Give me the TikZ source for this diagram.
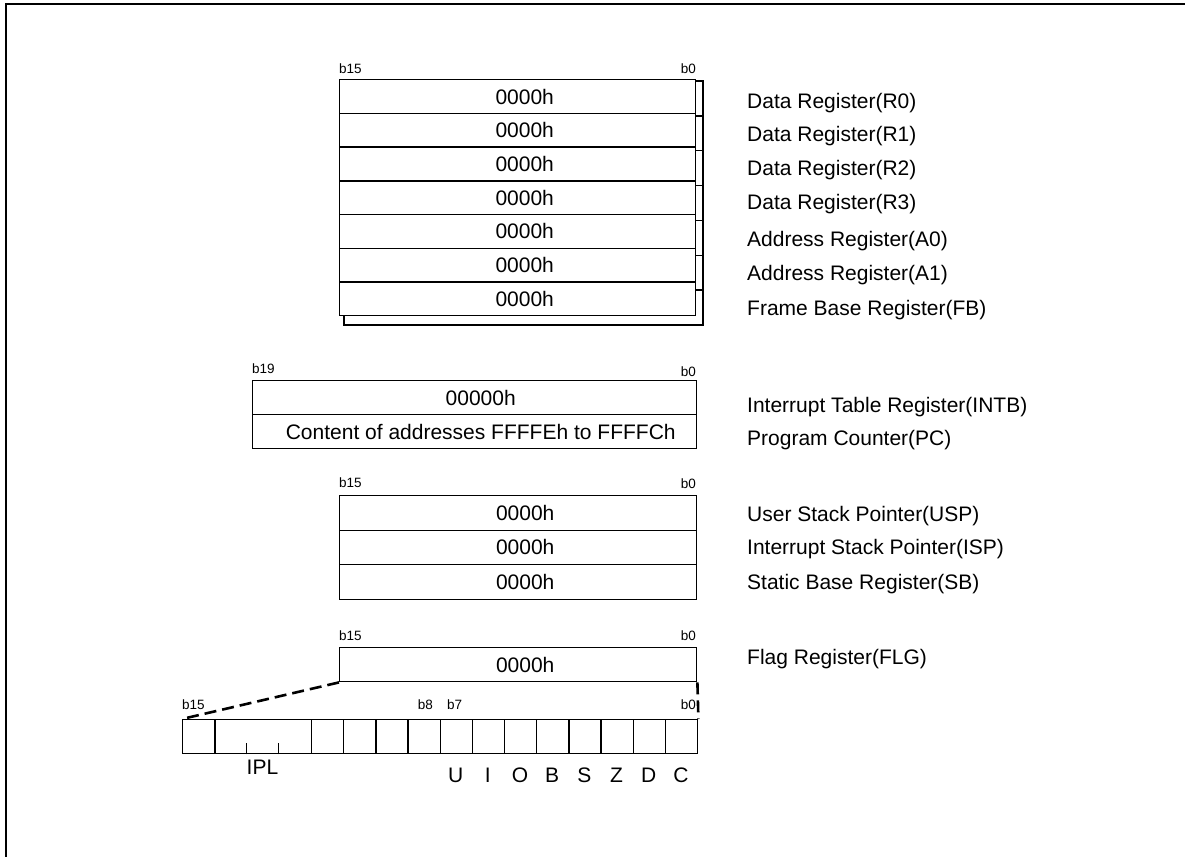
\documentclass[tikz,border=0pt]{standalone}
\usepackage{fontspec}
\setmainfont{Liberation Sans}
\newcommand\bigfnt{\fontsize{21}{24}\selectfont}
\newcommand\smallfnt{\fontsize{13.5}{15}\selectfont}
\begin{document}
\begin{tikzpicture}[x=1pt,y=-1pt,
  frameline/.style={line width=2.6pt},
  regrow/.style={draw, line width=1.4pt, fill=white, inner sep=0pt, anchor=north west, font=\bigfnt},
  shadowline/.style={draw, line width=1.4pt},
  bitlbl/.style={inner sep=0pt, font=\smallfnt},
  reglbl/.style={inner sep=0pt, anchor=base west, font=\bigfnt},
  flaglbl/.style={inner sep=0pt, font=\bigfnt},
  cellbox/.style={draw, line width=1.4pt, inner sep=0pt, anchor=north west, minimum height=34pt},
  dashline/.style={line width=2.6pt, dash pattern=on 12pt off 6pt}
]
\useasboundingbox (0,0) rectangle (1185,856);
% outer frame
\draw[frameline] (6,860) -- (6,4) -- (1190,4);

% ---- block 1: R0..FB with shadow
\draw[shadowline] (344,81) rectangle (703,325);
\foreach \k in {1,...,6} \draw[shadowline] (695,81+34.86*\k) -- (703,81+34.86*\k);
\foreach \i in {0,...,6}
  \node[regrow, minimum width=356pt, minimum height=33.7pt] (r\i) at (339,79+33.7*\i) {\raisebox{-1.5pt}{\hspace*{14pt}0000h}};
\node[bitlbl, anchor=west] (b1a) at (339,69) {b15};
\node[bitlbl, anchor=east] (b1b) at (696,69) {b0};
\node[reglbl] (l0) at (747,101+7.5) {Data Register(R0)};
\node[reglbl] (l1) at (747,134+7.5) {Data Register(R1)};
\node[reglbl] (l2) at (747,168+7.5) {Data Register(R2)};
\node[reglbl] (l3) at (747,202+7.5) {Data Register(R3)};
\node[reglbl] (l4) at (747,239+7.5) {Address Register(A0)};
\node[reglbl] (l5) at (747,273+7.5) {Address Register(A1)};
\node[reglbl] (l6) at (747,308+7.5) {Frame Base Register(FB)};

% ---- block 2: INTB, PC
\node[regrow, minimum width=444pt, minimum height=34pt] (intb) at (252,380) {\raisebox{-1.5pt}{\hspace*{12pt}00000h}};
\node[regrow, minimum width=444pt, minimum height=34pt] (pc) at (252,414) {\raisebox{-1.5pt}{\hspace*{12pt}Content of addresses FFFFEh to FFFFCh}};
\node[bitlbl, anchor=west] (b2a) at (252,369) {b19};
\node[bitlbl, anchor=east] (b2b) at (696,372) {b0};
\node[reglbl] (l7) at (747,405+7.5) {Interrupt Table Register(INTB)};
\node[reglbl] (l8) at (747,438+7.5) {Program Counter(PC)};

% ---- block 3: USP, ISP, SB
\foreach \i in {0,1,2}
  \node[regrow, minimum width=357pt, minimum height=34.5pt] (s\i) at (339,495+34.5*\i) {\raisebox{-1.5pt}{\hspace*{14pt}0000h}};
\node[bitlbl, anchor=west] (b3a) at (339,483) {b15};
\node[bitlbl, anchor=east] (b3b) at (696,484) {b0};
\node[reglbl] (l9) at (747,514+7.5) {User Stack Pointer(USP)};
\node[reglbl] (l10) at (747,547+7.5) {Interrupt Stack Pointer(ISP)};
\node[reglbl] (l11) at (747,582+7.5) {Static Base Register(SB)};

% ---- block 4: FLG
\node[regrow, minimum width=357pt, minimum height=34pt] (flg) at (339,647) {\raisebox{-1.5pt}{\hspace*{14pt}0000h}};
\node[bitlbl, anchor=west] (b4a) at (339,636) {b15};
\node[bitlbl, anchor=east] (b4b) at (696,636) {b0};
\node[reglbl] (l12) at (747,657+7.5) {Flag Register(FLG)};

% ---- bit cells
\def\cw{32.1875}
\node[cellbox, minimum width=\cw pt] (c0) at (182,719) {};
\node[cellbox, minimum width=3*\cw pt] (ipl) at (182+\cw,719) {};
\foreach \i in {4,...,15}
  \node[cellbox, minimum width=\cw pt] (c\i) at (182+\cw*\i,719) {};
\draw[line width=1.4pt] ([xshift=\cw pt]ipl.south west) -- ++(0,-11);
\draw[line width=1.4pt] ([xshift=2*\cw pt]ipl.south west) -- ++(0,-11);
\node[bitlbl, anchor=west] (b5a) at (182,705) {b15};
\node[bitlbl, anchor=east] (b5b) at (433,705) {b8};
\node[bitlbl, anchor=west] (b5c) at (447,705) {b7};
\node[bitlbl, anchor=east] (b5d) at (696,705) {b0};
\node[flaglbl] (fipl) at (262.5,767) {IPL};
\foreach \t [count=\j from 8] in {U,I,O,B,S,Z,D,C}
  \node[flaglbl] (f\j) at (182+\cw*\j+\cw/2,775) {\t};

% ---- dashed expansion lines
\draw[dashline] (flg.south west) -- (c0.north west);
\draw[dashline] (flg.south east) -- (c15.north east);
\end{tikzpicture}
\end{document}
